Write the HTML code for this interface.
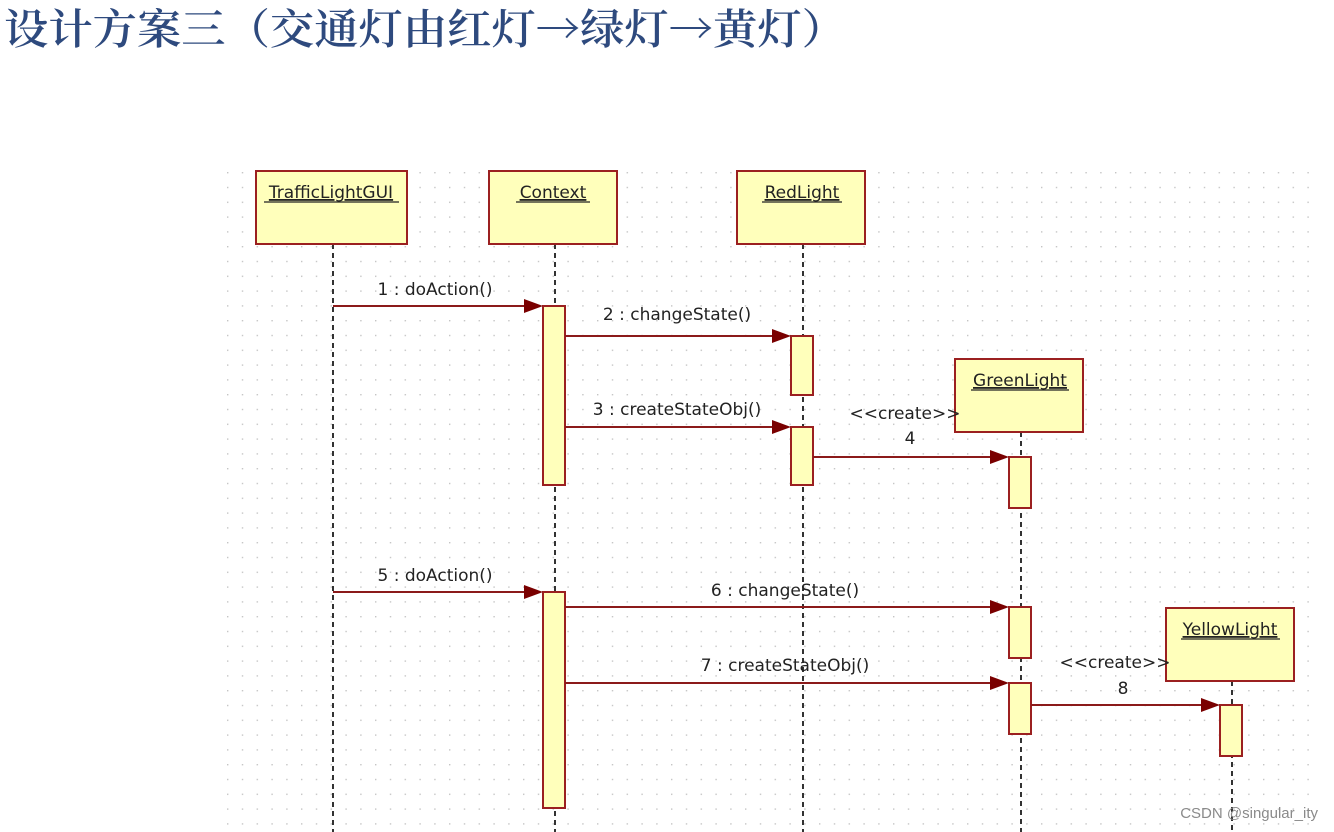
<!DOCTYPE html>
<html><head><meta charset="utf-8"><style>
html,body{margin:0;padding:0;background:#fff;width:1334px;height:832px;overflow:hidden}
</style></head><body>
<svg width="1334" height="832" xmlns="http://www.w3.org/2000/svg">
<defs>
<pattern id="g" x="227" y="172" width="14.8" height="14.8" patternUnits="userSpaceOnUse">
<rect x="0" y="0" width="1.4" height="1.4" fill="#c4c4c4"/>
</pattern>
</defs>
<rect x="226" y="170" width="1092" height="662" fill="url(#g)"/>
<text x="4" y="44" font-family="'Noto Serif CJK SC','Liberation Serif',serif" font-size="42" fill="#2E4A7E" font-weight="600" textLength="842" lengthAdjust="spacingAndGlyphs">设计方案三（交通灯由红灯→绿灯→黄灯）</text>

<g stroke="#000" stroke-width="1.6" stroke-dasharray="5,4">
<line x1="333" y1="244" x2="333" y2="832"/>
<line x1="555" y1="244" x2="555" y2="832"/>
<line x1="803" y1="244" x2="803" y2="832"/>
<line x1="1021" y1="432" x2="1021" y2="832"/>
<line x1="1232" y1="681" x2="1232" y2="832"/>
</g>

<g fill="#FFFFBB" stroke="#9B2020" stroke-width="2">
<rect x="256" y="171" width="151" height="73"/>
<rect x="489" y="171" width="128" height="73"/>
<rect x="737" y="171" width="128" height="73"/>
<rect x="955" y="359" width="128" height="73"/>
<rect x="1166" y="608" width="128" height="73"/>
<rect x="543" y="306" width="22" height="179"/>
<rect x="791" y="336" width="22" height="59"/>
<rect x="791" y="427" width="22" height="58"/>
<rect x="1009" y="457" width="22" height="51"/>
<rect x="543" y="592" width="22" height="216"/>
<rect x="1009" y="607" width="22" height="51"/>
<rect x="1009" y="683" width="22" height="51"/>
<rect x="1220" y="705" width="22" height="51"/>
</g>

<g font-family="'DejaVu Sans','Liberation Sans',sans-serif" font-size="17" fill="#222" text-anchor="middle" text-decoration="underline">
<text x="331" y="198" text-decoration="underline">TrafficLightGUI</text>
<text x="553" y="198" text-decoration="underline">Context</text>
<text x="802" y="198" text-decoration="underline">RedLight</text>
<text x="1020" y="386" text-decoration="underline">GreenLight</text>
<text x="1230" y="635" text-decoration="underline">YellowLight</text>
</g>
<g stroke="#222" stroke-width="1.3">
<line x1="264" y1="202" x2="399" y2="202"/>
<line x1="516" y1="202" x2="590" y2="202"/>
<line x1="762" y1="202" x2="842" y2="202"/>
<line x1="971" y1="390" x2="1069" y2="390"/>
<line x1="1181" y1="639" x2="1280" y2="639"/>
</g>

<g stroke="#8B1A1A" stroke-width="2">
<line x1="333" y1="306" x2="528" y2="306"/>
<line x1="565" y1="336" x2="776" y2="336"/>
<line x1="565" y1="427" x2="776" y2="427"/>
<line x1="813" y1="457" x2="994" y2="457"/>
<line x1="333" y1="592" x2="528" y2="592"/>
<line x1="565" y1="607" x2="994" y2="607"/>
<line x1="565" y1="683" x2="994" y2="683"/>
<line x1="1031" y1="705" x2="1205" y2="705"/>
</g>
<g fill="#7A0000">
<polygon points="524,299 543,306 524,313"/>
<polygon points="772,329 791,336 772,343"/>
<polygon points="772,420 791,427 772,434"/>
<polygon points="990,450 1009,457 990,464"/>
<polygon points="524,585 543,592 524,599"/>
<polygon points="990,600 1009,607 990,614"/>
<polygon points="990,676 1009,683 990,690"/>
<polygon points="1201,698 1220,705 1201,712"/>
</g>

<g font-family="'DejaVu Sans','Liberation Sans',sans-serif" font-size="17" fill="#222" text-anchor="middle">
<text x="435" y="295">1 : doAction()</text>
<text x="677" y="320">2 : changeState()</text>
<text x="677" y="415">3 : createStateObj()</text>
<text x="905" y="419">&lt;&lt;create&gt;&gt;</text>
<text x="910" y="444">4</text>
<text x="435" y="581">5 : doAction()</text>
<text x="785" y="596">6 : changeState()</text>
<text x="785" y="671">7 : createStateObj()</text>
<text x="1115" y="668">&lt;&lt;create&gt;&gt;</text>
<text x="1123" y="694">8</text>
</g>
<text x="1318" y="818" font-family="'Liberation Sans',sans-serif" font-size="15" fill="#8a8a8a" text-anchor="end">CSDN @singular_ity</text>
</svg>
</body></html>
